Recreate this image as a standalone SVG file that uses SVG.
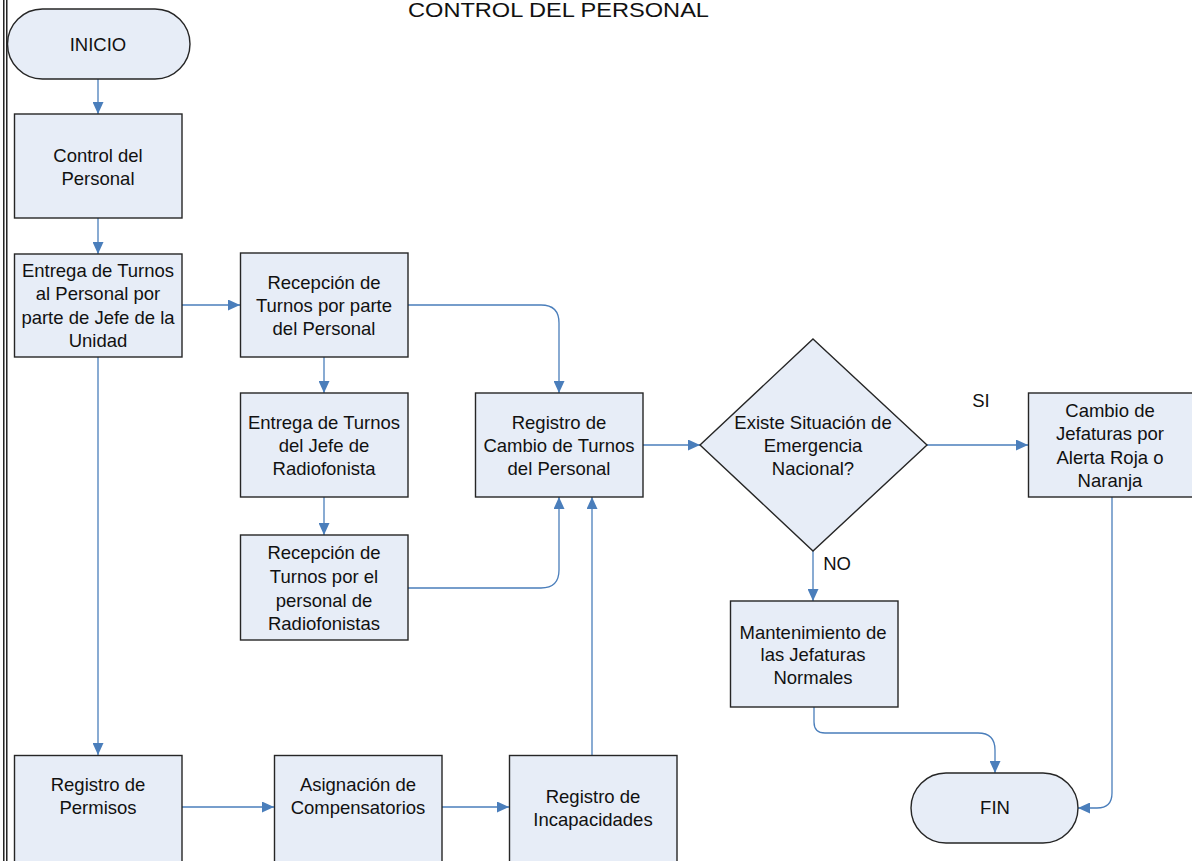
<svg xmlns="http://www.w3.org/2000/svg" width="1192" height="861" viewBox="0 0 1192 861">
  <defs>
    <marker id="arrow" markerWidth="13" markerHeight="11" refX="12" refY="5.5" orient="auto" markerUnits="userSpaceOnUse">
      <path d="M0,0 L12,5.5 L0,11 Z" fill="#4A7EBB"/>
    </marker>
    <style>
      .box { fill: #E7EDF7; stroke: #262626; stroke-width: 1.4; }
      .lbl { font-family: "Liberation Sans", Arial, sans-serif; font-size: 18.5px; fill: #111; text-anchor: middle; }
      .title { font-family: "Liberation Sans", Arial, sans-serif; font-size: 21px; fill: #111; }
      .conn { fill: none; stroke: #4A7EBB; stroke-width: 1.3; marker-end: url(#arrow); }
      .frame { stroke: #000; stroke-width: 1.3; }
    </style>
  </defs>

  <rect width="1192" height="861" fill="#fff"/>

  <!-- page frame on the left edge -->
  <line class="frame" x1="3.8" y1="0" x2="3.8" y2="861"/>
  <line class="frame" x1="6.8" y1="0" x2="6.8" y2="861"/>

  <text class="title" x="408" y="17" textLength="301" lengthAdjust="spacingAndGlyphs">CONTROL DEL PERSONAL</text>

  <!-- connectors -->
  <g id="connectors">
    <path class="conn" d="M98,79 V114"/>
    <path class="conn" d="M98,218 V254"/>
    <path class="conn" d="M182,305 H240"/>
    <path class="conn" d="M98,357 V755"/>
    <path class="conn" d="M324,357 V393"/>
    <path class="conn" d="M324,497 V535"/>
    <path class="conn" d="M408,305 H541 Q559,305 559,323 V393"/>
    <path class="conn" d="M408,588 H541 Q559,588 559,570 V497"/>
    <path class="conn" d="M592,755 V497"/>
    <path class="conn" d="M643,445 H700"/>
    <path class="conn" d="M927,445 H1028"/>
    <path class="conn" d="M813,551 V601"/>
    <path class="conn" d="M814,706 V722 Q814,733 825,733 H978 Q995,733 995,750 V773"/>
    <path class="conn" d="M1112,497 V793 Q1112,808 1097,808 H1078"/>
    <path class="conn" d="M182,807 H274"/>
    <path class="conn" d="M442,807 H509"/>
    <text class="lbl" x="981" y="407">SI</text>
    <text class="lbl" x="837" y="570">NO</text>
  </g>

  <g id="inicio">
    <rect class="box" x="7.5" y="9" width="182.5" height="70" rx="35" ry="35"/>
    <text class="lbl" x="98" y="51">INICIO</text>
  </g>

  <g id="control-personal">
    <rect class="box" x="14.5" y="114" width="167.5" height="104"/>
    <text class="lbl" x="98" y="162">Control del</text>
    <text class="lbl" x="98" y="185">Personal</text>
  </g>

  <g id="entrega-turnos">
    <rect class="box" x="14.5" y="254" width="167.5" height="103"/>
    <text class="lbl" x="98" y="277">Entrega de Turnos</text>
    <text class="lbl" x="98" y="300">al Personal por</text>
    <text class="lbl" x="98" y="324">parte de Jefe de la</text>
    <text class="lbl" x="98" y="347">Unidad</text>
  </g>

  <g id="recepcion-turnos">
    <rect class="box" x="240.5" y="253" width="167.5" height="104"/>
    <text class="lbl" x="324" y="289">Recepción de</text>
    <text class="lbl" x="324" y="312">Turnos por parte</text>
    <text class="lbl" x="324" y="335">del Personal</text>
  </g>

  <g id="entrega-jefe">
    <rect class="box" x="240.5" y="393" width="167.5" height="104"/>
    <text class="lbl" x="324" y="429">Entrega de Turnos</text>
    <text class="lbl" x="324" y="452">del Jefe de</text>
    <text class="lbl" x="324" y="475">Radiofonista</text>
  </g>

  <g id="recepcion-radiofonistas">
    <rect class="box" x="240.5" y="535" width="167.5" height="105"/>
    <text class="lbl" x="324" y="559">Recepción de</text>
    <text class="lbl" x="324" y="583">Turnos por el</text>
    <text class="lbl" x="324" y="607">personal de</text>
    <text class="lbl" x="324" y="630">Radiofonistas</text>
  </g>

  <g id="registro-cambio">
    <rect class="box" x="475.5" y="393" width="167.5" height="104"/>
    <text class="lbl" x="559" y="429">Registro de</text>
    <text class="lbl" x="559" y="452">Cambio de Turnos</text>
    <text class="lbl" x="559" y="475">del Personal</text>
  </g>

  <g id="emergencia">
    <polygon class="box" points="813,339 927,445 813,551 700,445"/>
    <text class="lbl" x="813" y="429">Existe Situación de</text>
    <text class="lbl" x="813" y="452">Emergencia</text>
    <text class="lbl" x="813" y="475">Nacional?</text>
  </g>

  <g id="cambio-jefaturas">
    <rect class="box" x="1028.5" y="393" width="166" height="104"/>
    <text class="lbl" x="1110" y="417">Cambio de</text>
    <text class="lbl" x="1110" y="440">Jefaturas por</text>
    <text class="lbl" x="1110" y="464">Alerta Roja o</text>
    <text class="lbl" x="1110" y="487">Naranja</text>
  </g>

  <g id="mantenimiento">
    <rect class="box" x="730.5" y="601" width="167.5" height="106"/>
    <text class="lbl" x="813" y="639">Mantenimiento de</text>
    <text class="lbl" x="813" y="661">las Jefaturas</text>
    <text class="lbl" x="813" y="684">Normales</text>
  </g>

  <g id="registro-permisos">
    <rect class="box" x="14.5" y="755.5" width="167.5" height="110"/>
    <text class="lbl" x="98" y="791">Registro de</text>
    <text class="lbl" x="98" y="814">Permisos</text>
  </g>

  <g id="asignacion-compensatorios">
    <rect class="box" x="274.5" y="755.5" width="167.5" height="110"/>
    <text class="lbl" x="358" y="791">Asignación de</text>
    <text class="lbl" x="358" y="814">Compensatorios</text>
  </g>

  <g id="registro-incapacidades">
    <rect class="box" x="509.5" y="755.5" width="167.5" height="110"/>
    <text class="lbl" x="593" y="803">Registro de</text>
    <text class="lbl" x="593" y="826">Incapacidades</text>
  </g>

  <g id="fin">
    <rect class="box" x="911" y="773" width="167" height="70" rx="35" ry="35"/>
    <text class="lbl" x="995" y="814">FIN</text>
  </g>
</svg>
